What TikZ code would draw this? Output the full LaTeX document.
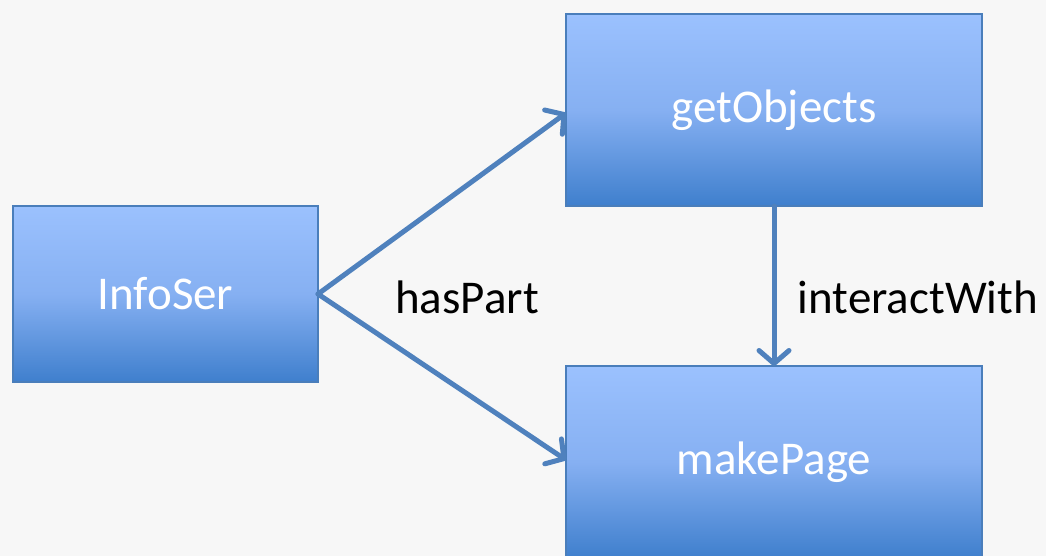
\documentclass[tikz,border=0pt]{standalone}
\usepackage{fontspec}
\setmainfont{Carlito}
\usetikzlibrary{arrows.meta}
\definecolor{bg}{HTML}{F7F7F7}
\definecolor{boxtop}{HTML}{9BC1FE}
\definecolor{boxmid}{HTML}{86B0F2}
\definecolor{boxbot}{HTML}{3F7FCD}
\definecolor{boxline}{HTML}{4A7EBB}
\definecolor{link}{HTML}{4F81BD}
\tikzset{
  blockbox/.style={draw=boxline, line width=1.5pt, top color=boxtop, bottom color=boxbot,
    middle color=boxmid, text=white, font=\fontsize{47}{50}\selectfont,
    inner sep=0pt, outer sep=0pt},
  relarrow/.style={draw=link, line width=5pt, line cap=round,
    -{Straight Barb[length=13pt, width=30pt, line cap=round, line join=round]}},
  rellabel/.style={text=black, font=\fontsize{47}{50}\selectfont, inner sep=0pt}
}
\begin{document}
\begin{tikzpicture}[x=1pt, y=-1pt]
  \path[fill=bg] (0,0) rectangle (1046,556);
  \useasboundingbox (0,0) rectangle (1046,556);
  \begin{scope}
    \clip (0,0) rectangle (1046,556);
    \node[blockbox, minimum width=305pt, minimum height=176pt] (info) at (165.5,294) {InfoSer};
    \node[blockbox, minimum width=416pt, minimum height=192pt] (get) at (774,110) {getObjects};
    \node[blockbox, minimum width=416pt, minimum height=192pt] (make) at (774,462) {makePage};
  \end{scope}
  \draw[relarrow] (info.east) -- ([yshift=-3pt]get.west);
  \draw[relarrow] (info.east) -- ([yshift=2pt]make.west);
  \draw[relarrow] (get.south) -- (make.north);
  \node[rellabel] (haspart) at (467,297) {hasPart};
  \node[rellabel] (interact) at (918,297) {interactWith};
\end{tikzpicture}
\end{document}
